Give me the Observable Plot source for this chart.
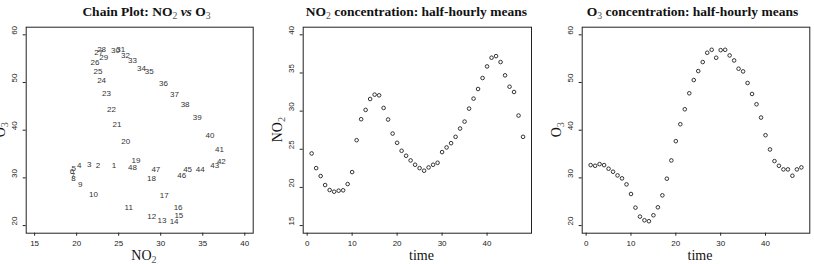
<!DOCTYPE html>
<html>
<head>
<meta charset="utf-8">
<script src="https://cdn.jsdelivr.net/npm/d3@7"></script>
<script src="https://cdn.jsdelivr.net/npm/@observablehq/plot@0.6"></script>
<style>
  body { margin: 0; background: #fff; }
  #row { display: flex; width: 814px; height: 264px; overflow: hidden; }
  #row svg { display: block; flex: none; }
</style>
</head>
<body>
<div id="row"></div>
<script>
// Half-hourly means over one day (48 half-hour periods)
const time = [1, 2, 3, 4, 5, 6, 7, 8, 9, 10, 11, 12, 13, 14, 15, 16, 17, 18, 19, 20, 21, 22, 23, 24,
              25, 26, 27, 28, 29, 30, 31, 32, 33, 34, 35, 36, 37, 38, 39, 40, 41, 42, 43, 44, 45, 46, 47, 48];
const no2 = [24.45, 22.53, 21.49, 20.31, 19.66, 19.44, 19.57, 19.62, 20.44, 22.01, 26.19, 28.94,
             30.16, 31.59, 32.16, 32.07, 30.42, 28.9, 27.06, 25.85, 24.8, 24.15, 23.54, 22.97,
             22.53, 22.19, 22.62, 22.97, 23.23, 24.63, 25.24, 25.8, 26.63, 27.72, 28.63, 30.33,
             31.64, 32.9, 34.34, 35.86, 37.0, 37.21, 36.43, 34.69, 33.2, 32.51, 29.42, 26.63];
const o3 = [32.68, 32.54, 32.89, 32.68, 31.92, 31.29, 30.52, 29.9, 28.64, 26.62, 23.76, 21.88,
            21.11, 20.91, 22.16, 23.83, 26.34, 29.83, 33.66, 37.7, 41.25, 44.39, 47.74, 50.52,
            52.4, 54.29, 56.24, 56.86, 55.19, 56.79, 56.86, 55.68, 54.63, 52.89, 52.33, 49.9,
            47.6, 45.44, 42.65, 38.95, 35.96, 33.52, 32.54, 31.78, 31.78, 30.45, 31.78, 32.2];

// Axis ticks
const chainXTicks = [15, 20, 25, 30, 35, 40];
const chainYTicks = [20, 30, 40, 50, 60];
const timeTicks = [0, 10, 20, 30, 40];
const no2Ticks = [15, 20, 25, 30, 35, 40];
const o3Ticks = [20, 30, 40, 50, 60];

const rows = time.map((t, i) => ({time: t, no2: no2[i], o3: o3[i]}));

const SANS = "'Liberation Sans', Helvetica, Arial, sans-serif";
const SERIF = "'Liberation Serif', 'Times New Roman', serif";
const INK = "#222";

// Pads a numeric range by 4% on each side, as R's default axis style does
const pad = ([a, b]) => [a - 0.04 * (b - a), b + 0.04 * (b - a)];

// Writes a text element made of runs; a run flagged "sub" is drawn as a subscript
function richText(parent, runs, attrs) {
  const t = parent.append("text");
  for (const [k, v] of Object.entries(attrs)) t.attr(k, v);
  for (const run of runs) {
    const s = t.append("tspan").text(run.text);
    if (run.sub) s.attr("font-size", "72%").attr("dy", 2.8).attr("font-weight", "normal").attr("fill", "#555");
    if (run.after) s.attr("dy", -2.8);
    if (run.italic) s.attr("font-style", "italic");
  }
  return t;
}

function panel({width, marginLeft, marginRight, xDomain, yDomain, xTicks, yTicks, marks,
                title, titleX, xLabel, xLabelX, yLabel}) {
  const marginTop = 26.7, marginBottom = 31.3, height = 264;
  const svg = Plot.plot({
    width, height, marginTop, marginBottom, marginLeft, marginRight,
    x: {domain: pad(xDomain), axis: null},
    y: {domain: pad(yDomain), axis: null},
    style: {fontFamily: SANS, fontSize: "8px", color: INK, background: "white", overflow: "visible"},
    marks: [
      ...marks,
      Plot.axisX({ticks: xTicks, tickSize: 3, tickPadding: 4.5, label: null, anchor: "bottom", stroke: INK}),
      Plot.axisY({ticks: yTicks, tickSize: 3, tickFormat: () => "", label: null, anchor: "left", stroke: INK}),
      Plot.text(yTicks, {y: d => d, text: d => String(d), frameAnchor: "left", dx: -11.5,
                         rotate: -90, fill: INK, fontSize: 8}),
      Plot.frame({stroke: INK, strokeWidth: 1})
    ]
  });
  const s = d3.select(svg);
  richText(s, title, {x: titleX, y: 16, "text-anchor": "middle", "font-family": SERIF,
                      "font-size": 13.5, "font-weight": "bold", fill: "#111"});
  richText(s, xLabel, {x: xLabelX, y: 260, "text-anchor": "middle", "font-family": SERIF,
                       "font-size": 14, fill: "#111"});
  const yMid = marginTop + (height - marginTop - marginBottom) / 2;
  const yx = marginLeft - 21;
  richText(s, yLabel, {transform: `translate(${yx},${yMid}) rotate(-90)`, "text-anchor": "middle",
                       "font-family": SERIF, "font-size": 14, fill: "#111"});
  return svg;
}

const NO2 = [{text: "NO"}, {text: "2", sub: true}];
const O3 = [{text: "O"}, {text: "3", sub: true}];

const row = document.getElementById("row");

// Chain plot: each half-hour labelled by its index at (NO2, O3)
row.append(panel({
  width: 271, marginLeft: 25.7, marginRight: 18.3,
  xDomain: [15, 40], yDomain: [20, 60], xTicks: chainXTicks, yTicks: chainYTicks,
  marks: [
    Plot.text(rows, {x: "no2", y: "o3", text: d => String(d.time), fill: "#333", fontSize: 8})
  ],
  title: [{text: "Chain Plot: NO"}, {text: "2", sub: true}, {text: " ", after: true},
          {text: "vs", italic: true}, {text: " O"}, {text: "3", sub: true}],
  titleX: 146.5,
  xLabel: NO2, xLabelX: 144,
  yLabel: O3
}));

// NO2 over time
row.append(panel({
  width: 271, marginLeft: 31.7, marginRight: 11,
  xDomain: [1, 48], yDomain: [15, 40], xTicks: timeTicks, yTicks: no2Ticks,
  marks: [
    Plot.dot(rows, {x: "time", y: "no2", r: 1.8, stroke: "#333", strokeWidth: 1, fill: "none"})
  ],
  title: [{text: "NO"}, {text: "2", sub: true}, {text: " concentration: half-hourly means", after: true}],
  titleX: 145.3,
  xLabel: [{text: "time"}], xLabelX: 150.5,
  yLabel: NO2
}));

// O3 over time
row.append(panel({
  width: 272, marginLeft: 39.7, marginRight: 4.7,
  xDomain: [1, 48], yDomain: [20, 60], xTicks: timeTicks, yTicks: o3Ticks,
  marks: [
    Plot.dot(rows, {x: "time", y: "o3", r: 1.8, stroke: "#333", strokeWidth: 1, fill: "none"})
  ],
  title: [{text: "O"}, {text: "3", sub: true}, {text: " concentration: half-hourly means", after: true}],
  titleX: 150.5,
  xLabel: [{text: "time"}], xLabelX: 158,
  yLabel: O3
}));
</script>
</body>
</html>
